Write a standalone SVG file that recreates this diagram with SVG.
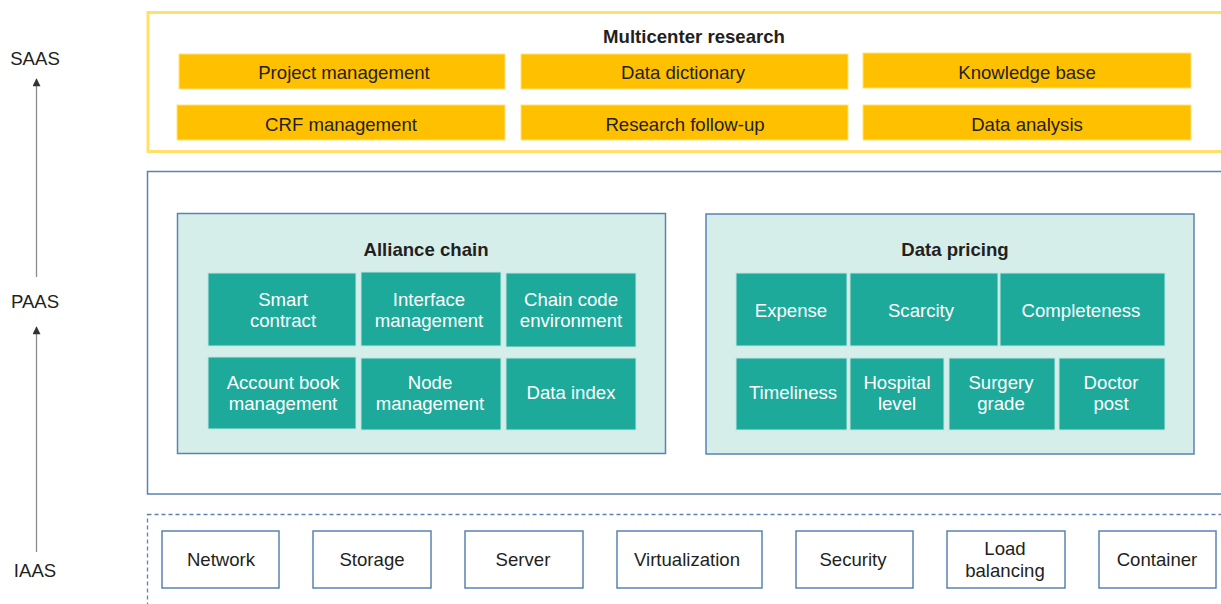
<svg xmlns="http://www.w3.org/2000/svg" width="1221" height="604" viewBox="0 0 1221 604">
<defs>
<style>
text{font-family:"Liberation Sans",Arial,sans-serif;font-size:18.6px;text-anchor:middle;fill:#231f20}
.b{font-weight:bold}
.w{fill:#fff}
.y{fill:#FFC000;stroke:#FFE27A;stroke-width:1}
.t{fill:#1DAA9B;stroke:#BFE6E0;stroke-width:1}
.panel{fill:#D6EEEA;stroke:#5B82B3;stroke-width:1.5}
.ib{fill:#fff;stroke:#5B82B3;stroke-width:1.5}
.ax{stroke:#8a8a8a;stroke-width:1.3;fill:none}
</style>
<marker id="ah" viewBox="0 0 10 10" refX="9" refY="5" markerWidth="9" markerHeight="8" markerUnits="userSpaceOnUse" orient="auto">
<path d="M0,0 L10,5 L0,10 Z" fill="#333"/>
</marker>
</defs>
<rect width="1221" height="604" fill="#fff"/>

<g id="axis">
<text x="35" y="65">SAAS</text>
<text x="35" y="308">PAAS</text>
<text x="35" y="577">IAAS</text>
</g>
<g id="connectors">
<line class="ax" x1="36.5" y1="277" x2="36.5" y2="79" marker-end="url(#ah)"/>
<line class="ax" x1="36.5" y1="552" x2="36.5" y2="327" marker-end="url(#ah)"/>
</g>

<g id="saas">
<rect x="148" y="12.5" width="1080" height="139" fill="#fff" stroke="#FFE06A" stroke-width="3"/>
<text class="b" x="694" y="43">Multicenter research</text>
<g id="project-management"><rect class="y" x="179" y="54" width="326" height="35"/><text x="344" y="78.5">Project management</text></g>
<g id="data-dictionary"><rect class="y" x="521" y="54" width="327" height="35"/><text x="683" y="78.5">Data dictionary</text></g>
<g id="knowledge-base"><rect class="y" x="863" y="53" width="328" height="35"/><text x="1027" y="78.5">Knowledge base</text></g>
<g id="crf-management"><rect class="y" x="177" y="105" width="328" height="35"/><text x="341" y="130.5">CRF management</text></g>
<g id="research-follow-up"><rect class="y" x="521" y="105" width="327" height="35"/><text x="685" y="130.5">Research follow-up</text></g>
<g id="data-analysis"><rect class="y" x="863" y="105" width="328" height="35"/><text x="1027" y="130.5">Data analysis</text></g>
</g>

<g id="paas">
<rect x="147.5" y="171.5" width="1080" height="322.5" fill="#fff" stroke="#5B82B3" stroke-width="1.5"/>
</g>

<g id="alliance-chain">
<rect class="panel" x="177.5" y="213.5" width="488" height="240"/>
<text class="b" x="426" y="256">Alliance chain</text>
<g id="smart-contract"><rect class="t" x="208" y="273" width="148" height="73"/><text class="w" x="283" y="306">Smart</text><text class="w" x="283" y="327">contract</text></g>
<g id="interface-management"><rect class="t" x="361" y="272" width="140" height="74"/><text class="w" x="429" y="306">Interface</text><text class="w" x="429" y="327">management</text></g>
<g id="chain-code-environment"><rect class="t" x="506" y="273" width="130" height="74"/><text class="w" x="571" y="306">Chain code</text><text class="w" x="571" y="327">environment</text></g>
<g id="account-book-management"><rect class="t" x="208" y="357" width="148" height="72"/><text class="w" x="283" y="389">Account book</text><text class="w" x="283" y="410">management</text></g>
<g id="node-management"><rect class="t" x="361" y="358" width="140" height="72"/><text class="w" x="430" y="389">Node</text><text class="w" x="430" y="410">management</text></g>
<g id="data-index"><rect class="t" x="506" y="358" width="130" height="72"/><text class="w" x="571" y="399">Data index</text></g>
</g>

<g id="data-pricing">
<rect class="panel" x="706" y="214" width="488" height="240"/>
<text class="b" x="955" y="256">Data pricing</text>
<g id="expense"><rect class="t" x="736" y="273" width="111" height="73"/><text class="w" x="791" y="317">Expense</text></g>
<g id="scarcity"><rect class="t" x="850" y="273" width="148" height="73"/><text class="w" x="921" y="317">Scarcity</text></g>
<g id="completeness"><rect class="t" x="1000" y="273" width="165" height="73"/><text class="w" x="1081" y="317">Completeness</text></g>
<g id="timeliness"><rect class="t" x="736" y="358" width="111" height="72"/><text class="w" x="793" y="399">Timeliness</text></g>
<g id="hospital-level"><rect class="t" x="850" y="358" width="94" height="72"/><text class="w" x="897" y="389">Hospital</text><text class="w" x="897" y="410">level</text></g>
<g id="surgery-grade"><rect class="t" x="949" y="358" width="106" height="72"/><text class="w" x="1001" y="389">Surgery</text><text class="w" x="1001" y="410">grade</text></g>
<g id="doctor-post"><rect class="t" x="1059" y="358" width="106" height="72"/><text class="w" x="1111" y="389">Doctor</text><text class="w" x="1111" y="410">post</text></g>
</g>

<g id="iaas">
<rect x="147.5" y="514.5" width="1080" height="100" fill="#fff" stroke="#5B82B3" stroke-width="1.3" stroke-dasharray="4,3"/>
<g id="network"><rect class="ib" x="162" y="531" width="117" height="57"/><text x="221" y="566">Network</text></g>
<g id="storage"><rect class="ib" x="313" y="531" width="118" height="57"/><text x="372" y="566">Storage</text></g>
<g id="server"><rect class="ib" x="465" y="531" width="118" height="57"/><text x="523" y="566">Server</text></g>
<g id="virtualization"><rect class="ib" x="617" y="531" width="145" height="57"/><text x="687" y="566">Virtualization</text></g>
<g id="security"><rect class="ib" x="796" y="531" width="117" height="57"/><text x="853" y="566">Security</text></g>
<g id="load-balancing"><rect class="ib" x="947" y="531" width="118" height="57"/><text x="1005" y="555">Load</text><text x="1005" y="577">balancing</text></g>
<g id="container"><rect class="ib" x="1099" y="531" width="117" height="57"/><text x="1157" y="566">Container</text></g>
</g>
</svg>
